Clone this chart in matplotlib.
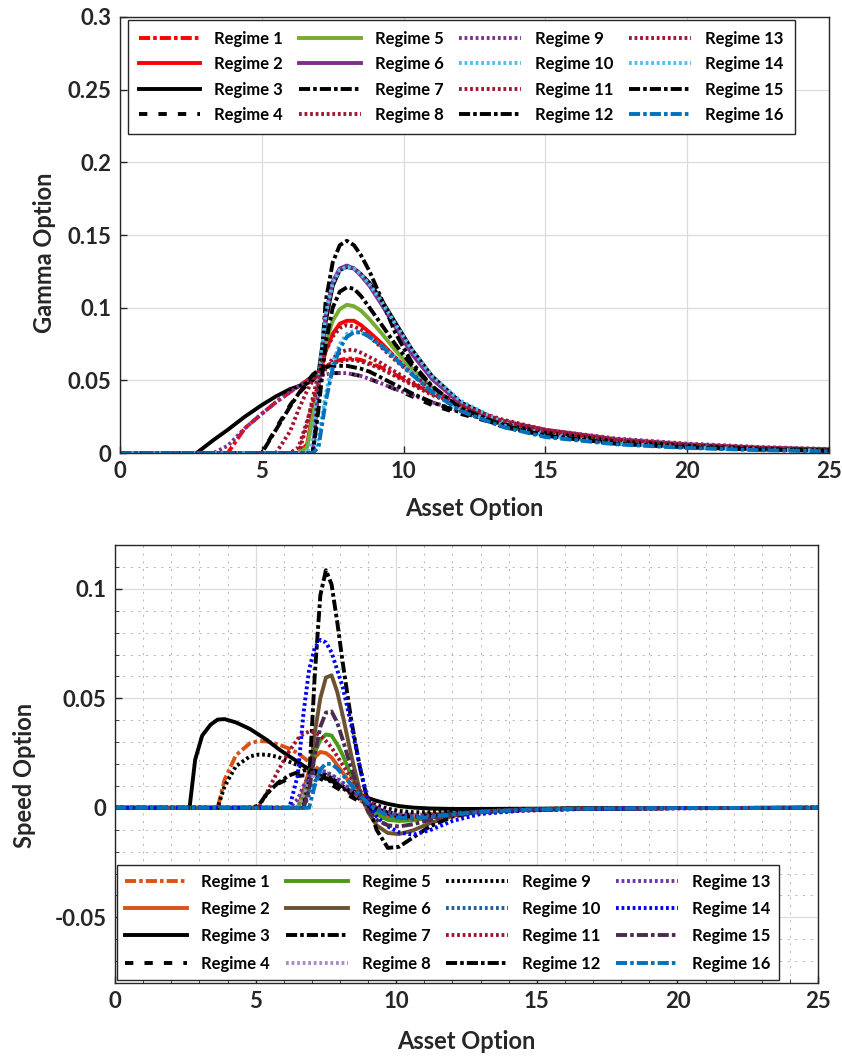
import matplotlib.pyplot as plt
from matplotlib.ticker import MultipleLocator, FuncFormatter

plt.rcParams['font.family'] = ['Lato', 'DejaVu Sans']
plt.rcParams['font.weight'] = 'bold'
plt.rcParams['lines.scale_dashes'] = False

# ---- gamma of the option, one list per regime, on the asset grid below ----
asset_g = [0, 2.7, 3.3, 3.8, 4.4, 5.0, 5.5, 6.0, 6.3, 6.6, 6.8, 7.0, 7.25, 7.5, 7.75,
           8.0, 8.25, 8.5, 8.8, 9.2, 9.7, 10.3, 11, 12, 13.5, 15, 17.5, 20, 22.5, 25]

gamma_1 = [0, 0, 0, 0, 0.017, 0.027, 0.035, 0.042, 0.046, 0.050, 0.053, 0.056, 0.060, 0.062,
           0.064, 0.065, 0.065, 0.064, 0.062, 0.059, 0.054, 0.048, 0.041, 0.032, 0.022, 0.015,
           0.009, 0.0055, 0.0035, 0.0023]
gamma_2 = [0] * 9 + [0.006, 0.028, 0.050, 0.070, 0.082, 0.089, 0.091, 0.091, 0.088, 0.083, 0.076,
                     0.066, 0.055, 0.043, 0.031, 0.020, 0.013, 0.0075, 0.0045, 0.003, 0.002]
gamma_3 = [0, 0, 0.009, 0.016, 0.025, 0.033, 0.039, 0.044, 0.046, 0.048, 0.050, 0.055, 0.090,
           0.115, 0.126, 0.128, 0.127, 0.123, 0.117, 0.106, 0.090, 0.071, 0.053, 0.035, 0.021,
           0.013, 0.007, 0.0042, 0.0027, 0.0017]
gamma_4 = [0] * 6 + [0.017, 0.033, 0.041, 0.047, 0.051, 0.053, 0.055, 0.055, 0.055, 0.055, 0.054,
                     0.053, 0.051, 0.048, 0.044, 0.039, 0.033, 0.027, 0.019, 0.013, 0.0075,
                     0.0045, 0.003, 0.002]
gamma_5 = [0] * 9 + [0.004, 0.025, 0.050, 0.075, 0.091, 0.099, 0.102, 0.101, 0.098, 0.092, 0.083,
                     0.071, 0.058, 0.045, 0.031, 0.020, 0.013, 0.0072, 0.0043, 0.0028, 0.0018]
gamma_6 = [0] * 11 + [0.045, 0.095, 0.118, 0.127, 0.129, 0.127, 0.122, 0.115, 0.103, 0.087,
                      0.068, 0.051, 0.034, 0.020, 0.013, 0.007, 0.0042, 0.0027, 0.0017]
gamma_7 = [0] * 11 + [0.035, 0.104, 0.131, 0.143, 0.146, 0.143, 0.136, 0.125, 0.107, 0.083,
                      0.062, 0.046, 0.030, 0.018, 0.012, 0.0065, 0.004, 0.0025, 0.0015]
gamma_8 = [0] * 7 + [0.015, 0.030, 0.043, 0.050, 0.055, 0.059, 0.062, 0.063, 0.064, 0.064, 0.063,
                     0.061, 0.058, 0.053, 0.047, 0.040, 0.032, 0.023, 0.016, 0.0095, 0.006,
                     0.0038, 0.0025]
gamma_9 = [0, 0, 0, 0.005, 0.017, 0.027, 0.035, 0.042, 0.046, 0.050, 0.052, 0.053, 0.054, 0.055,
           0.055, 0.055, 0.054, 0.053, 0.051, 0.048, 0.044, 0.040, 0.035, 0.029, 0.022, 0.016,
           0.010, 0.0065, 0.0042, 0.0028]
gamma_10 = [0] * 10 + [0.010, 0.050, 0.095, 0.117, 0.126, 0.128, 0.127, 0.123, 0.116, 0.105,
                       0.089, 0.071, 0.053, 0.036, 0.021, 0.013, 0.007, 0.0042, 0.0027, 0.0017]
gamma_11 = [0] * 8 + [0.004, 0.022, 0.035, 0.047, 0.058, 0.065, 0.069, 0.071, 0.071, 0.069,
                      0.066, 0.062, 0.056, 0.049, 0.041, 0.032, 0.022, 0.016, 0.009, 0.0055,
                      0.0035, 0.0023]
gamma_12 = [0] * 6 + [0.016, 0.032, 0.041, 0.049, 0.054, 0.057, 0.059, 0.060, 0.060, 0.060,
                      0.059, 0.058, 0.056, 0.052, 0.047, 0.041, 0.035, 0.028, 0.020, 0.014,
                      0.008, 0.005, 0.003, 0.002]
gamma_13 = [0] * 9 + [0.020, 0.038, 0.055, 0.070, 0.080, 0.086, 0.088, 0.087, 0.085, 0.080,
                      0.073, 0.064, 0.054, 0.044, 0.033, 0.022, 0.015, 0.0085, 0.005, 0.0032,
                      0.0021]
gamma_14 = [0] * 11 + [0.010, 0.040, 0.062, 0.075, 0.082, 0.084, 0.083, 0.080, 0.074, 0.066,
                       0.055, 0.043, 0.030, 0.019, 0.012, 0.0065, 0.0038, 0.0024, 0.0015]
gamma_15 = [0] * 11 + [0.030, 0.075, 0.100, 0.111, 0.114, 0.113, 0.108, 0.100, 0.089, 0.075,
                       0.060, 0.046, 0.031, 0.019, 0.012, 0.0065, 0.004, 0.0025, 0.0016]
gamma_16 = [0] * 11 + [0.004, 0.035, 0.058, 0.072, 0.080, 0.083, 0.083, 0.080, 0.074, 0.065,
                       0.054, 0.042, 0.029, 0.018, 0.011, 0.006, 0.0035, 0.002, 0.0012]

# ---- speed of the option ----
asset_s = [0, 2.65, 2.85, 3.1, 3.4, 3.65, 3.9, 4.3, 4.8, 5.1, 5.4, 5.8, 6.2, 6.5, 6.7, 6.9,
           7.1, 7.3, 7.5, 7.7, 7.9, 8.1, 8.4, 8.7, 9.0, 9.3, 9.7, 10.1, 10.6, 11.2, 12, 13,
           14.5, 16.5, 20, 25]

speed_1 = [0] * 6 + [0.013, 0.024, 0.0295, 0.0305, 0.0303, 0.029, 0.027, 0.025, 0.023, 0.021,
                     0.019, 0.017, 0.015, 0.013, 0.011, 0.009, 0.006, 0.0035, 0.0013, -0.0005,
                     -0.002, -0.003, -0.0033, -0.003, -0.0023, -0.0015, -0.0008, -0.0004,
                     -0.0001, 0]
speed_2 = [0] * 14 + [0.008, 0.017, 0.023, 0.0255, 0.025, 0.023, 0.0195, 0.016, 0.0105, 0.005,
                      0.001, -0.002, -0.0038, -0.0045, -0.0045, -0.0038, -0.0027, -0.0017,
                      -0.0008, -0.0003, -0.0001, 0]
speed_3 = [0, 0, 0.022, 0.033, 0.038, 0.0403, 0.0405, 0.039, 0.036, 0.0335, 0.031, 0.027,
           0.0235, 0.021, 0.0192, 0.0178, 0.0163, 0.015, 0.0135, 0.0122, 0.011, 0.0097,
           0.0078, 0.0062, 0.0045, 0.0032, 0.0018, 0.0008, 0.0001, -0.0003, -0.0005,
           -0.0005, -0.0004, -0.0003, -0.0001, 0]
speed_4 = [0] * 10 + [0.0065, 0.011, 0.0135, 0.0145, 0.0148, 0.0147, 0.0142, 0.0133, 0.012,
                      0.0105, 0.009, 0.0074, 0.005, 0.0028, 0.0008, -0.0008, -0.0022, -0.003,
                      -0.0032, -0.003, -0.0024, -0.0016, -0.0009, -0.0004, -0.0001, 0]
speed_5 = [0] * 14 + [0.005, 0.015, 0.025, 0.031, 0.0335, 0.033, 0.029, 0.024, 0.0145, 0.0065,
                      0.0005, -0.003, -0.0055, -0.006, -0.0057, -0.0045, -0.003, -0.0017,
                      -0.0008, -0.0003, -0.0001, 0]
speed_6 = [0] * 15 + [0.012, 0.034, 0.050, 0.0595, 0.0605, 0.053, 0.042, 0.024, 0.008, -0.002,
                      -0.008, -0.0115, -0.012, -0.0103, -0.007, -0.0037, -0.0017, -0.0007,
                      -0.0003, -0.0001, 0]
speed_7 = [0] * 15 + [0.012, 0.060, 0.097, 0.1085, 0.102, 0.085, 0.066, 0.040, 0.019, 0.002,
                      -0.010, -0.0183, -0.0178, -0.0135, -0.0085, -0.004, -0.0018, -0.0007,
                      -0.0003, -0.0001, 0]
speed_8 = [0] * 14 + [0.006, 0.012, 0.0155, 0.0165, 0.016, 0.0148, 0.013, 0.011, 0.0078,
                      0.0047, 0.002, 0.0, -0.0018, -0.003, -0.0035, -0.0033, -0.0027, -0.0019,
                      -0.001, -0.0005, -0.0001, 0]
speed_9 = [0] * 6 + [0.010, 0.019, 0.0235, 0.0243, 0.0243, 0.0232, 0.021, 0.0195, 0.0183, 0.017,
                     0.0158, 0.0145, 0.0132, 0.0118, 0.0105, 0.009, 0.0068, 0.0047, 0.0028,
                     0.0012, -0.0004, -0.0014, -0.002, -0.002, -0.0016, -0.0011, -0.0006,
                     -0.0003, -0.0001, 0]
speed_10 = [0] * 15 + [0.006, 0.012, 0.015, 0.0155, 0.015, 0.0135, 0.0115, 0.008, 0.0048,
                       0.0018, -0.0005, -0.0025, -0.0035, -0.0038, -0.0034, -0.0026, -0.0017,
                       -0.0009, -0.0004, -0.0001, 0]
speed_11 = [0] * 10 + [0.007, 0.017, 0.026, 0.0315, 0.0338, 0.0348, 0.0345, 0.033, 0.0305,
                       0.0275, 0.0235, 0.0195, 0.0135, 0.008, 0.0035, 0.0, -0.003, -0.0045,
                       -0.005, -0.0045, -0.0035, -0.0024, -0.0013, -0.0006, -0.0002, 0]
speed_12 = [0] * 9 + [0.001, 0.0065, 0.0115, 0.0148, 0.0163, 0.017, 0.0173, 0.017, 0.0162,
                      0.015, 0.0135, 0.0118, 0.0098, 0.0068, 0.004, 0.0015, -0.0005, -0.0025,
                      -0.0037, -0.004, -0.0036, -0.0028, -0.0019, -0.001, -0.0005, -0.0001, 0]
speed_13 = [0] * 13 + [0.004, 0.010, 0.0145, 0.0165, 0.017, 0.0165, 0.015, 0.013, 0.011,
                       0.0078, 0.0048, 0.002, 0.0, -0.002, -0.0032, -0.0038, -0.0036, -0.003,
                       -0.0021, -0.0012, -0.0005, -0.0001, 0]
speed_14 = [0] * 13 + [0.015, 0.043, 0.063, 0.073, 0.0767, 0.0755, 0.071, 0.063, 0.055, 0.038,
                       0.019, 0.003, -0.004, -0.0085, -0.0112, -0.0123, -0.0102, -0.006,
                       -0.0028, -0.0012, -0.0005, -0.0002, 0]
speed_15 = [0] * 15 + [0.008, 0.024, 0.037, 0.0435, 0.044, 0.039, 0.031, 0.018, 0.0065,
                       -0.0015, -0.0055, -0.008, -0.0085, -0.0075, -0.0055, -0.0032, -0.0016,
                       -0.0007, -0.0003, -0.0001, 0]
speed_16 = [0] * 16 + [0.010, 0.0175, 0.0202, 0.020, 0.018, 0.015, 0.0105, 0.006, 0.002,
                       -0.001, -0.0035, -0.0045, -0.0048, -0.0042, -0.003, -0.0019, -0.001,
                       -0.0004, -0.0001, 0]

gamma_all = [gamma_1, gamma_2, gamma_3, gamma_4, gamma_5, gamma_6, gamma_7, gamma_8,
             gamma_9, gamma_10, gamma_11, gamma_12, gamma_13, gamma_14, gamma_15, gamma_16]
speed_all = [speed_1, speed_2, speed_3, speed_4, speed_5, speed_6, speed_7, speed_8,
             speed_9, speed_10, speed_11, speed_12, speed_13, speed_14, speed_15, speed_16]
labels = ['Regime %d' % k for k in range(1, 17)]

# line styles in points (dash scaling is off)
SOLID = '-'
DASHDOT = (0, (8, 2.2, 2.6, 2.2))
DASHED = (0, (6, 8))
DOTTED = (0, (2, 2))

gamma_style = [
    ('#FF0000', DASHDOT), ('#FF0000', SOLID), ('#000000', SOLID), ('#000000', DASHED),
    ('#77AC30', SOLID), ('#7E2F8E', SOLID), ('#000000', DASHDOT), ('#A2142F', DOTTED),
    ('#7E2F8E', DOTTED), ('#4DBEEE', DOTTED), ('#A2142F', DOTTED), ('#000000', DASHDOT),
    ('#A2142F', DOTTED), ('#4DBEEE', DOTTED), ('#000000', DASHDOT), ('#0072BD', DASHDOT),
]
speed_style = [
    ('#D95319', DASHDOT), ('#D95319', SOLID), ('#000000', SOLID), ('#000000', DASHED),
    ('#4A9A1A', SOLID), ('#6B5232', SOLID), ('#000000', DASHDOT), ('#A98BCB', DOTTED),
    ('#000000', DOTTED), ('#1F5F9A', DOTTED), ('#A2142F', DOTTED), ('#000000', DASHDOT),
    ('#6A35A8', DOTTED), ('#0000FF', DOTTED), ('#4B2C4F', DASHDOT), ('#0072BD', DASHDOT),
]


def fmt(v, pos):
    return '%g' % round(v, 4)


def style_axes(ax, ylabel):
    for side in ax.spines.values():
        side.set_color('#262626')
        side.set_linewidth(1.0)
    ax.tick_params(direction='in', length=5, width=1.0, colors='#262626',
                   labelsize=16, pad=6)
    ax.yaxis.set_major_formatter(FuncFormatter(fmt))
    ax.set_xlim(0, 25)
    ax.set_xticks([0, 5, 10, 15, 20, 25])
    ax.set_xlabel('Asset Option', fontsize=17, fontweight='bold', color='#262626')
    ax.set_ylabel(ylabel, fontsize=17, fontweight='bold', color='#262626')


def add_legend(ax, loc, anchor, labelspacing, borderpad):
    leg = ax.legend(ncol=4, loc=loc, bbox_to_anchor=anchor, borderaxespad=0,
                    fontsize=12, handlelength=3.7, handletextpad=0.85, columnspacing=0.95,
                    labelspacing=labelspacing, frameon=True, fancybox=False,
                    edgecolor='#262626', framealpha=1, borderpad=borderpad)
    leg.get_frame().set_linewidth(1.0)
    return leg


fig = plt.figure(figsize=(8.42, 10.61), dpi=100)

# gamma panel
ax1 = fig.add_axes([0.1425, 0.573, 0.842, 0.411])
for ys, (c, ls), lab in zip(gamma_all, gamma_style, labels):
    ax1.plot(asset_g, ys, color=c, linestyle=ls, lw=2.8, label=lab)
ax1.set_ylim(0, 0.3)
ax1.set_yticks([0, 0.05, 0.1, 0.15, 0.2, 0.25, 0.3])
ax1.grid(True, color='#DCDCDC', lw=0.9)
ax1.set_axisbelow(True)
style_axes(ax1, 'Gamma Option')
ax1.xaxis.set_label_coords(0.5, -0.100)
ax1.yaxis.set_label_coords(-0.090, 0.46)
add_legend(ax1, 'upper left', (0.011, 0.993), 0.56, 0.65)

# speed panel
ax2 = fig.add_axes([0.1366, 0.0735, 0.835, 0.4128])
for ys, (c, ls), lab in zip(speed_all, speed_style, labels):
    ax2.plot(asset_s, ys, color=c, linestyle=ls, lw=2.8, label=lab)
ax2.set_ylim(-0.08, 0.12)
ax2.set_yticks([-0.05, 0, 0.05, 0.1])
ax2.xaxis.set_minor_locator(MultipleLocator(1))
ax2.yaxis.set_minor_locator(MultipleLocator(0.01))
ax2.grid(True, which='major', color='#DCDCDC', lw=0.9)
ax2.grid(True, which='minor', color='#B8B8B8', lw=0.7, linestyle=(0, (1.5, 4)))
ax2.tick_params(which='minor', direction='in', length=3, color='#262626')
ax2.set_axisbelow(True)
style_axes(ax2, 'Speed Option')
ax2.xaxis.set_label_coords(0.5, -0.108)
ax2.yaxis.set_label_coords(-0.113, 0.475)
add_legend(ax2, 'lower left', (0.003, 0.007), 0.68, 0.5)

fig.savefig('out.png', dpi=100)
